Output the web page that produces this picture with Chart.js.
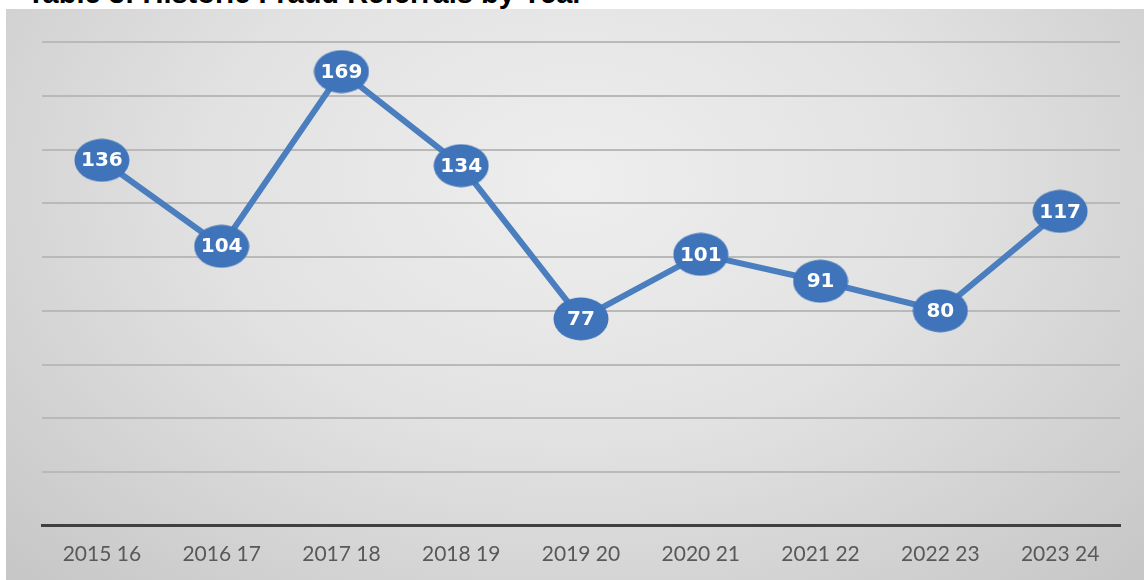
<!DOCTYPE html>
<html>
<head>
<meta charset="utf-8">
<script src="https://cdn.jsdelivr.net/npm/chart.js@4/dist/chart.umd.min.js"></script>
<style>
  html, body { margin: 0; padding: 0; background: #fff; overflow: hidden; }
  #title {
    position: absolute; left: 27px; top: -23px;
    font: bold 29px "Liberation Sans", Arial, sans-serif; color: #000;
    white-space: nowrap;
  }
  #box {
    position: absolute; left: 6px; top: 9px; width: 1138px; height: 571px; overflow: hidden;
    background: radial-gradient(ellipse at 50% 30%, #eeeeee 0%, #e2e2e2 45%, #c6c6c6 100%);
  }
  /* a bit wider than the box: the x scale keeps ~33px on its right side */
  #wrap { position: relative; width: 1147px; height: 571px; }
</style>
</head>
<body>
<div id="title">Table 3: Historic Fraud Referrals by Year</div>
<div id="box"><div id="wrap"><canvas id="lineChart"></canvas></div></div>
<script>
const years = ["2015 16", "2016 17", "2017 18", "2018 19", "2019 20", "2020 21", "2021 22", "2022 23", "2023 24"];
const referrals = [136, 104, 169, 134, 77, 101, 91, 80, 117];
const yMax = 180;
const yStep = 20;

// oval marker like the Excel bubbles
function makeBubble() {
  const c = document.createElement("canvas");
  c.width = 56;
  c.height = 44;
  const g = c.getContext("2d");
  g.fillStyle = "#3f74ba";
  g.beginPath();
  g.ellipse(28, 22, 27.5, 21.5, 0, 0, Math.PI * 2);
  g.fill();
  return c;
}

const bubbleLabels = {
  id: "bubbleLabels",
  afterDatasetsDraw(chart) {
    const ctx = chart.ctx;
    const meta = chart.getDatasetMeta(0);
    ctx.save();
    ctx.fillStyle = "#ffffff";
    ctx.font = "bold 20px 'DejaVu Sans', Verdana, sans-serif";
    ctx.textAlign = "center";
    ctx.textBaseline = "middle";
    meta.data.forEach(function(pt, i) {
      ctx.fillText(String(referrals[i]), pt.x, pt.y + 1);
    });
    ctx.restore();
  }
};

const ctxLine = document.getElementById("lineChart").getContext("2d");
const lineChart = new Chart(ctxLine, {
  type: "line",
  data: {
    labels: years,
    datasets: [{
      data: referrals,
      borderColor: "#4a7ebf",
      borderWidth: 6,
      pointStyle: makeBubble(),
      pointRadius: 27,
      pointHoverRadius: 27,
      tension: 0
    }]
  },
  options: {
    responsive: true,
    maintainAspectRatio: false,
    animation: false,
    events: [],
    layout: { padding: { left: 36, right: 0, top: 31, bottom: -3 } },
    plugins: { legend: { display: false }, tooltip: { enabled: false } },
    scales: {
      x: {
        offset: true,
        grid: { display: false, drawTicks: false },
        border: { display: true, color: "#404040", width: 3 },
        ticks: {
          color: "#595959",
          padding: 16,
          maxRotation: 0,
          autoSkip: false,
          font: { family: "Lato, 'Open Sans', sans-serif", size: 21 }
        }
      },
      y: {
        min: 0,
        max: yMax,
        grid: { color: "#b9b9b9", lineWidth: 2, drawTicks: false },
        border: { display: false },
        ticks: { display: false, stepSize: yStep }
      }
    }
  },
  plugins: [bubbleLabels]
});
</script>
</body>
</html>
